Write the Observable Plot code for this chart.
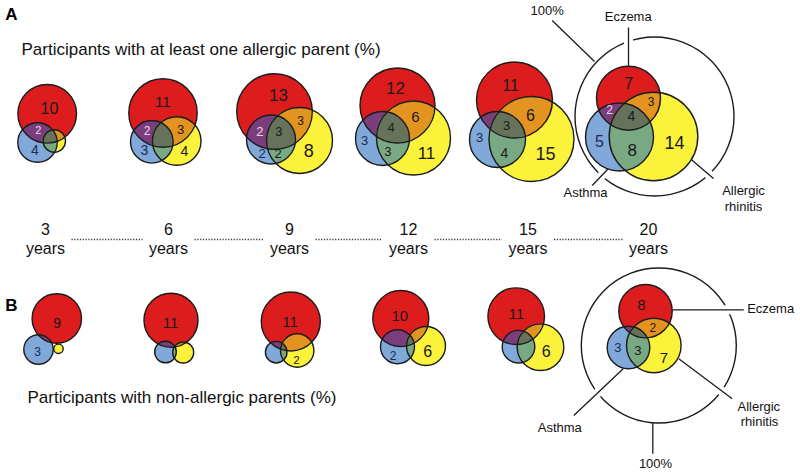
<!DOCTYPE html>
<html><head><meta charset="utf-8">
<script src="https://cdn.jsdelivr.net/npm/d3@7"></script>
<script src="https://cdn.jsdelivr.net/npm/@observablehq/plot@0.6"></script>
<style>body{margin:0;background:#fff}svg{display:block}</style>
</head><body><div id="chart"></div>
<script>
// ---------- DATA ----------
const ages = ["3", "6", "9", "12", "15", "20"];
const titleA = "Participants with at least one allergic parent (%)";
const titleB = "Participants with non-allergic parents (%)";
const setNames = ["Eczema", "Asthma", "Allergic rhinitis"];
// region percentages shown in each diagram (E=eczema, A=asthma, R=rhinitis)
const valuesA = [[10, 2, 4], [11, 2, 3, 3, 4], [13, 2, 3, 3, 2, 2, 8], [12, 6, 4, 3, 3, 11], [11, 3, 6, 3, 4, 15], [7, 2, 3, 4, 5, 8, 14]];
const regionsA = [["E", "EA", "A"], ["E", "EA", "ER", "A", "R"], ["E", "EA", "EAR", "ER", "A", "AR", "R"], ["E", "ER", "EAR", "A", "AR", "R"], ["E", "EAR", "ER", "A", "AR", "R"], ["E", "EA", "ER", "EAR", "A", "AR", "R"]];
const valuesB = [[9, 3], [11], [11, 2], [10, 2, 6], [11, 6], [8, 2, 3, 3, 7]];
const regionsB = [["E", "A"], ["E"], ["E", "R"], ["E", "A", "R"], ["E", "R"], ["E", "ER", "A", "AR", "R"]];

// ---------- LAYOUT (pixel geometry) ----------
const ageX = [45, 168, 289, 408, 527.5, 648];
// circles per diagram: [cx, cy, r] for E, A, R
const circlesA = [
  [[46.7, 113.3, 29.3], [37, 142, 19.7], [53.8, 140.5, 11.2]],
  [[162.5, 112.5, 34.2], [151.3, 141.3, 21.3], [176.2, 140.5, 24.3]],
  [[274, 111, 37.8], [270.5, 139, 24.5], [299, 140, 33]],
  [[397, 105, 37.5], [382, 138, 27], [413, 137.5, 37]],
  [[514, 99.5, 38], [497, 139, 28], [531, 138.5, 42.5]],
  [[628, 97.7, 32], [619, 136.5, 34], [653, 136, 44.3]]
];
const circlesB = [
  [[56.3, 318, 24.7], [38, 349, 14.7], [58, 348.3, 4.7]],
  [[170.5, 319.7, 27], [165, 351.5, 10.8], [182.7, 352, 10.5]],
  [[290.3, 321, 29.5], [275.7, 351.7, 10.8], [296.7, 350, 16.7]],
  [[400.3, 318, 28], [397, 346.3, 17], [425.5, 345.5, 19.5]],
  [[515.7, 315.7, 28.3], [518, 346.2, 16.3], [540, 346.7, 23.3]],
  [[645, 310.7, 26.7], [628, 347, 21.3], [653.3, 345, 27.3]]
];
// label positions [x, y, fontSize]
const posA = [
  [[49, 108.3, 16], [37.7, 130, 11], [34.3, 150, 14]],
  [[162.3, 101.7, 15], [146.7, 130.7, 12], [180, 129.3, 13], [144, 150, 14], [184, 151, 14]],
  [[278, 95, 17], [259.3, 131.7, 13], [278.3, 131.7, 13], [300, 121, 12], [261.7, 153.3, 13], [277.7, 153.3, 13], [308.3, 150.5, 18]],
  [[395, 88.3, 17], [415, 116.7, 15], [390.7, 127.3, 13], [364, 140, 13], [387.3, 151.7, 13], [426, 153.3, 17]],
  [[510, 85, 16], [506, 125, 13], [530, 115, 16], [479, 137, 13], [504, 153, 14], [545, 154, 18]],
  [[628.3, 83.3, 16], [609, 110, 12], [650.7, 101.7, 12], [631, 116, 14], [599, 141, 16], [631.7, 150, 17], [674, 142.3, 18]]
];
const posB = [
  [[56.7, 322.7, 14], [37, 351.7, 12]],
  [[170, 322.7, 15]],
  [[289.5, 321.7, 15], [296, 360, 11]],
  [[399.3, 315.7, 15], [392.7, 356, 12], [427.3, 351.7, 16]],
  [[515.7, 313.3, 15], [545.7, 351.7, 16]],
  [[641, 304.3, 15], [652.3, 327.3, 12], [617.3, 347.7, 13], [637.3, 350, 13], [663.3, 357.3, 15]]
];
const outer = [[654, 116, 79.5], [658.3, 345, 77.5]];
// leader lines [x1, y1, x2, y2, crossesOuterCircle]
const leaders = [
  [551.7, 20, 594, 61, false], [628, 27, 628, 65.7, true], [591.7, 185, 608, 168, true], [713, 178, 690.7, 159, true],
  [671.7, 309.3, 743.3, 309.3, true], [573.3, 415, 622.7, 368.3, true], [731.7, 398.3, 678.3, 358.3, true], [652.3, 422.5, 652.3, 453.3, false]
];
const annotMid = [
  ["100%", 546.7, 10.7], [setNames[0], 627.7, 16.7], [setNames[1], 585, 192.7],
  ["Allergic", 743, 190.7], ["rhinitis", 743, 206],
  [setNames[1], 559.3, 427.3], ["Allergic", 758.3, 406], ["rhinitis", 759, 421.7], ["100%", 655, 463.3]
];
const annotStart = [[setNames[0], 746.7, 308.3]];

// ---------- STYLE ----------
const col = {E: "#dd1d1d", A: "#80a8d8", R: "#fbf23c", EA: "#7b3e7c", ER: "#e39320", AR: "#79a982", EAR: "#66735a"};
const ink = "#1b1b1b";
const toneFor = r => r === "EA" ? "#f2d6f0" : r === "A" ? "#1d2a52" : "#1a1a1a";
const font = "Liberation Sans, Arial, Helvetica, sans-serif";

// ---------- BUILD ----------
const venns = [...circlesA, ...circlesB].map(c => ({E: c[0], A: c[1], R: c[2]}));
const dots = [];
venns.forEach((v, i) => ["E", "A", "R"].forEach(k => dots.push({i, k, x: v[k][0], y: v[k][1], r: v[k][2], fill: col[k]})));
const labels = [];
[[valuesA, regionsA, posA], [valuesB, regionsB, posB]].forEach(([vals, regs, pos]) =>
  vals.forEach((arr, j) => arr.forEach((v, n) => labels.push({text: String(v), region: regs[j][n], x: pos[j][n][0], y: pos[j][n][1], size: pos[j][n][2]}))));
const segs = ageX.slice(0, -1).map((x, i) => ({x1: x + 26, x2: ageX[i + 1] - 26}));
const leaderData = leaders.map(d => ({x1: d[0], y1: d[1], x2: d[2], y2: d[3], halo: d[4]}));

function overlaps(index, scales) {
  const {x, y} = scales;
  const g = d3.create("svg:g");
  const defs = g.append("defs");
  venns.forEach((v, i) => {
    const id = "venn" + i;
    ["E", "A"].forEach(k => defs.append("clipPath").attr("id", id + k).append("circle")
      .attr("cx", x(v[k][0])).attr("cy", y(v[k][1])).attr("r", v[k][2]));
    const circ = (sel, k, fill) => sel.append("circle").attr("cx", x(v[k][0])).attr("cy", y(v[k][1])).attr("r", v[k][2]).attr("fill", fill);
    circ(g.append("g").attr("clip-path", `url(#${id}E)`), "A", col.EA);
    circ(g.append("g").attr("clip-path", `url(#${id}E)`), "R", col.ER);
    circ(g.append("g").attr("clip-path", `url(#${id}A)`), "R", col.AR);
    circ(g.append("g").attr("clip-path", `url(#${id}E)`).append("g").attr("clip-path", `url(#${id}A)`), "R", col.EAR);
  });
  return g.node();
}

const chart = Plot.plot({
  width: 800, height: 472,
  margin: 0,
  x: {domain: [0, 800], range: [0, 800], axis: null},
  y: {domain: [0, 472], range: [0, 472], axis: null},
  r: {type: "identity"},
  color: {type: "identity"},
  style: {fontFamily: font, background: "#fff"},
  marks: [
    Plot.dot(outer, {x: d => d[0], y: d => d[1], r: d => d[2], stroke: ink, strokeWidth: 1.4, fill: "none"}),
    Plot.link(leaderData.filter(d => d.halo), {x1: "x1", y1: "y1", x2: "x2", y2: "y2", stroke: "#fff", strokeWidth: 9}),
    Plot.link(leaderData, {x1: "x1", y1: "y1", x2: "x2", y2: "y2", stroke: ink, strokeWidth: 1.3}),
    Plot.dot(dots, {x: "x", y: "y", r: "r", fill: "fill", stroke: "none"}),
    overlaps,
    Plot.dot(dots, {x: "x", y: "y", r: "r", fill: "none", stroke: ink, strokeWidth: 1.4}),
    Plot.text(labels, {x: "x", y: "y", text: "text", fontSize: "size", fill: d => toneFor(d.region)}),
    Plot.text(annotMid, {x: d => d[1], y: d => d[2], text: d => d[0], textAnchor: "middle", fontSize: 13, fill: "#111"}),
    Plot.text(annotStart, {x: d => d[1], y: d => d[2], text: d => d[0], textAnchor: "start", fontSize: 13, fill: "#111"}),
    Plot.text(ages, {x: (d, i) => ageX[i], y: () => 229, text: d => d, fontSize: 16, fill: "#111"}),
    Plot.text(ages, {x: (d, i) => ageX[i], y: () => 248, text: () => "years", fontSize: 16, fill: "#111"}),
    Plot.link(segs, {x1: "x1", x2: "x2", y1: () => 239, y2: () => 239, stroke: "#333", strokeWidth: 1.4, strokeDasharray: "1.2,1.6"}),
    Plot.text([titleA], {x: () => 21, y: () => 49, text: d => d, textAnchor: "start", fontSize: 17, fill: "#111"}),
    Plot.text([titleB], {x: () => 27, y: () => 397, text: d => d, textAnchor: "start", fontSize: 17, fill: "#111"}),
    Plot.text(["A", "B"], {x: () => 11, y: (d, i) => i ? 305 : 14, text: d => d, fontSize: 17, fontWeight: "bold", fill: "#000"})
  ]
});
document.getElementById("chart").appendChild(chart);
</script>
</body></html>
